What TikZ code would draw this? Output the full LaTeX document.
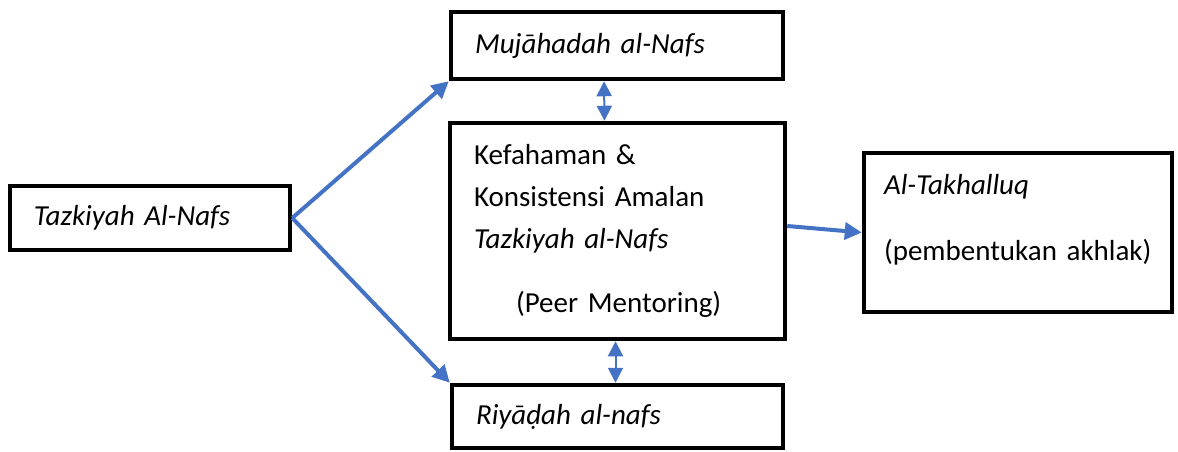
\documentclass[tikz,border=0pt]{standalone}
\usepackage{fontspec}
\setmainfont{Carlito}
\usepackage{xcolor}
\usetikzlibrary{arrows.meta}
\definecolor{arrowblue}{HTML}{4472C4}
\tikzset{
  box/.style = {draw, line width=4.5pt, align=left, inner xsep=24pt, inner ysep=0pt},
  flow/.style = {-{Triangle[length=17pt, width=17pt]}, line width=4pt, color=arrowblue},
  link/.style = {{Triangle[length=15pt, width=15pt]}-{Triangle[length=15pt, width=15pt]}, line width=2pt, color=arrowblue}
}

\begin{document}
\begin{tikzpicture}[x=1pt, y=-1pt, font=\fontsize{29}{42}\selectfont]
\useasboundingbox (0, 0) rectangle (1178, 452);
% boxes
\node [box, text width=232pt, minimum height=64pt] (tazkiyah) at (150, 218) {\textit{Tazkiyah Al-Nafs}};
\node [box, text width=284pt, minimum height=67pt] (mujahadah) at (617, 45.5) {\textit{Mujāhadah al-Nafs}};
\node [box, text width=287pt, minimum height=216pt] (kefahaman) at (617.5, 231)
  {Kefahaman \&\\ Konsistensi Amalan\\ \textit{Tazkiyah al-Nafs}\\[22pt] \hspace*{42pt}(Peer Mentoring)};
\node [box, text width=283pt, minimum height=63pt] (riyadah) at (617.5, 416.5) {\textit{Riyāḍah al-nafs}};
\node [box, inner xsep=20pt, text width=268pt, text depth=97pt, minimum height=159pt] (takhalluq) at (1018, 232.5)
  {\textit{Al-Takhalluq}\\[24pt] (pembentukan akhlak)};
% arrows
\draw [flow] (tazkiyah.east) -- (mujahadah.south west);
\draw [flow] (tazkiyah.east) -- (riyadah.north west);
\draw [flow] ([yshift=5pt]kefahaman.east) -- (takhalluq.west);
\draw [link] ([xshift=-13pt]mujahadah.south) -- ([xshift=-13pt]kefahaman.north);
\draw [link] ([xshift=-2pt]kefahaman.south) -- ([xshift=-2pt]riyadah.north);
\end{tikzpicture}
\end{document}
